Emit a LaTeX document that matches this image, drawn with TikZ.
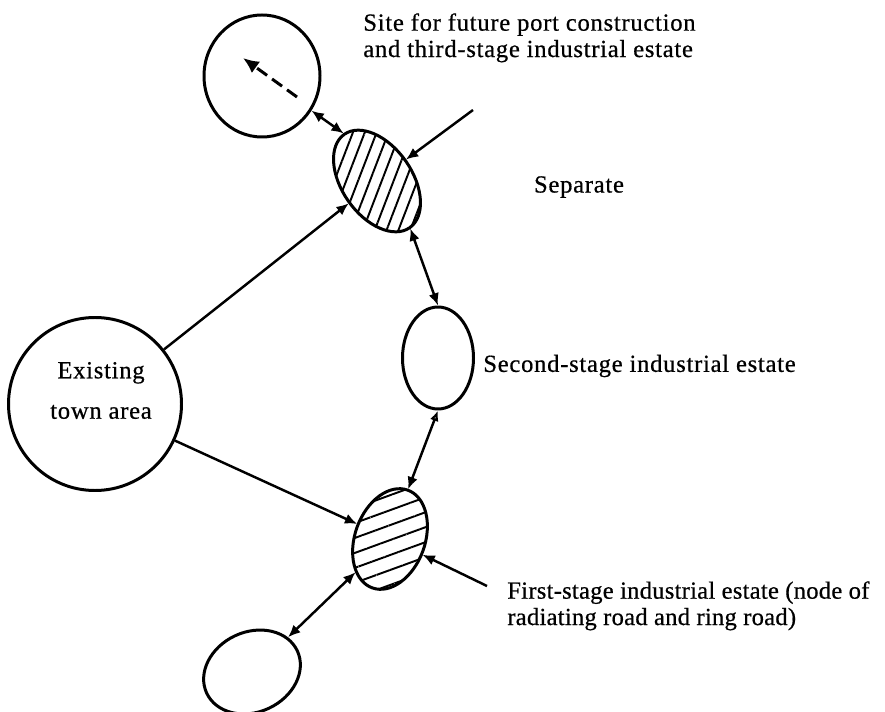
\documentclass[tikz,border=0pt]{standalone}
\usepackage{fontspec}
\setmainfont{Liberation Serif}[LetterSpace=3, FakeBold=0.6]
\usepackage{tikz}
\usetikzlibrary{shapes.geometric, arrows.meta, patterns.meta}

\begin{document}
\begin{tikzpicture}[font=\fontsize{14}{15}\selectfont]
        % Define styles
        \tikzstyle{area} = [ellipse, draw, line width=1.7pt, inner sep=0pt]
        \tikzstyle{hatchsteep} = [pattern={Lines[angle=69, distance=6.3pt, line width=1.1pt]}]
        \tikzstyle{hatchflat} = [pattern={Lines[angle=20, distance=8pt, line width=1.1pt]}]
        \tikzstyle{arrow} = [-{Latex[length=7pt, width=6pt]}, line width=1.4pt]
        \tikzstyle{twoway} = [{Latex[length=7pt, width=6pt]}-{Latex[length=7pt, width=6pt]}, line width=1.4pt]
        \tikzstyle{notetext} = [inner sep=0pt, align=left]

        \useasboundingbox (0,0) rectangle (17.7,-14.24);

        % Town and estates
        \node[area, minimum width=3.46cm, minimum height=3.46cm] (town) at (1.9,-8.08) {};
        \node[area, minimum width=2.32cm, minimum height=2.44cm] (port) at (5.24,-1.52) {};
        \node[area, hatchsteep, minimum width=2.28cm, minimum height=1.4cm, rotate=-55] (third) at (7.54,-3.62) {};
        \node[area, minimum width=1.42cm, minimum height=2.04cm] (second) at (8.76,-7.16) {};
        \node[area, hatchflat, minimum width=1.4cm, minimum height=2.08cm, rotate=-20] (first) at (7.8,-10.78) {};
        \node[area, minimum width=2.0cm, minimum height=1.6cm, rotate=25] (bottom) at (5.04,-13.44) {};

        \node[align=center, font=\fontsize{14}{23}\selectfont] (towntext) at (2.02,-7.81) {Existing\\town area};

        % Labels
        \node[notetext, anchor=north west] (sitetext) at (7.26,-0.26) {Site for future port construction\\and third-stage industrial estate};
        \node[notetext] (septext) at (11.58,-3.74) {Separate};
        \node[notetext, anchor=west] (secondtext) at (9.66,-7.32) {Second-stage industrial estate};
        \node[notetext, anchor=north west, font=\fontsize{14}{15}\selectfont\addfontfeatures{LetterSpace=1}] (firsttext) at (10.14,-11.62) {First-stage industrial estate (node of\\radiating road and ring road)};

        % Free ends
        \coordinate (dashtail) at (5.94,-1.94);
        \coordinate (dashhead) at (4.86,-1.16);
        \coordinate (septail) at (9.46,-2.2);
        \coordinate (firsttail) at (9.74,-11.72);

        % Connections
        \draw[-{Latex[length=9pt, width=8pt]}, line width=1.7pt, dash pattern=on 7pt off 3.5pt] (dashtail) -- (dashhead);
        \draw[twoway] (port.-35) -- (third.west);
        \draw[arrow] (septail) -- (third);
        \draw[arrow] (town) -- (third);
        \draw[arrow] (town) -- (first);
        \draw[twoway] (third.east) -- (second.north);
        \draw[{Latex[open, length=6pt, width=5pt]}-{Latex[length=7pt, width=6pt]}, line width=1.4pt] (second.south) -- (first.north);
        \draw[arrow] (firsttail) -- (first);
        \draw[twoway] (first) -- (bottom);

\end{tikzpicture}
\end{document}
